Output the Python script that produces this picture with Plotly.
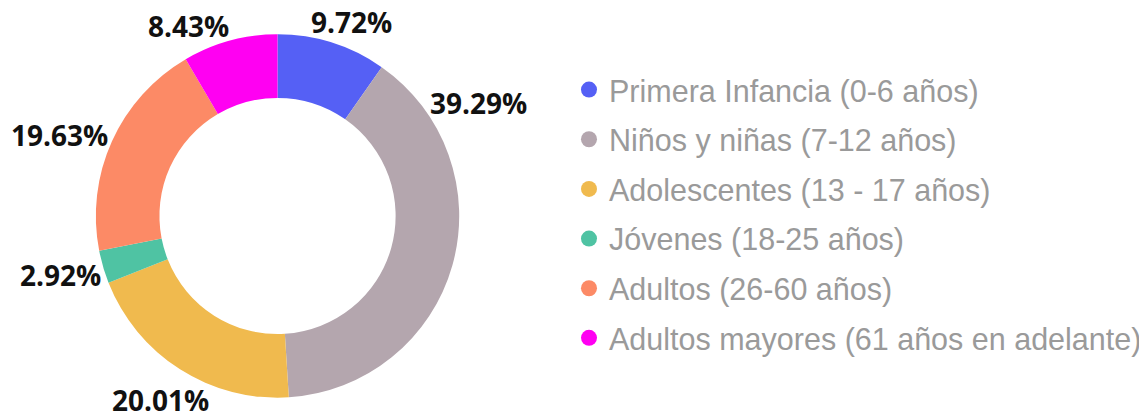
import math
import plotly.graph_objects as go

categories = [
    "Primera Infancia (0-6 años)",
    "Niños y niñas (7-12 años)",
    "Adolescentes (13 - 17 años)",
    "Jóvenes (18-25 años)",
    "Adultos (26-60 años)",
    "Adultos mayores (61 años en adelante)",
]
values = [9.72, 39.29, 20.01, 2.92, 19.63, 8.43]
colors = ["#5560F5", "#B4A6AE", "#F0BA4E", "#4FC3A3", "#FC8A66", "#FF00F2"]

# label placement tweaks (degrees added to slice mid-angle)
label_angle_offset = [3.5, -45, 0, 1, -4, -10]

# page body has an 8px margin, so the figure is sized to fit the window
W, H = 1139, 406
CX, CY, R = 270, 208, 182  # pie centre / outer radius in figure pixels
LABEL_SIZE = 28

fig = go.Figure()
fig.add_trace(go.Pie(
    labels=categories,
    values=values,
    hole=0.65,
    sort=False,
    direction="clockwise",
    rotation=0,
    marker=dict(colors=colors, line=dict(width=0)),
    textinfo="none",
    showlegend=False,
    domain=dict(x=[(CX - R) / W, (CX + R) / W], y=[1 - (CY + R) / H, 1 - (CY - R) / H]),
    hoverinfo="label+percent",
))

for i, (name, col) in enumerate(zip(categories, colors)):
    fig.add_trace(go.Scatter(
        x=[None], y=[None], mode="markers", name=name,
        marker=dict(symbol="circle", size=18, color=col),
        legendgroup=f"g{i}", showlegend=True,
    ))


def text_width(s):
    w = 0
    for ch in s:
        if ch.isdigit():
            w += 0.572
        elif ch == ".":
            w += 0.29
        elif ch == "%":
            w += 0.87
    return w * LABEL_SIZE


total = sum(values)
cum = 0
annotations = []
for v, off in zip(values, label_angle_offset):
    mid = (cum + v / 2) / total * 360 + off
    cum += v
    a = math.radians(mid)
    s, c = math.sin(a), math.cos(a)
    txt = f"{v:.2f}%"
    w = text_width(txt)
    h = 20
    dist = R + 2 + abs(s) * w / 2 + abs(c) * h / 2
    px = CX + dist * s
    py = CY - dist * c
    annotations.append(dict(
        x=px / W, y=1 - py / H, xref="paper", yref="paper",
        text=f"<b>{txt}</b>", showarrow=False,
        xanchor="center", yanchor="middle", borderpad=0,
        font=dict(family="Open Sans", size=LABEL_SIZE, color="#111111"),
    ))

fig.update_layout(
    width=W, height=H,
    margin=dict(l=0, r=0, t=0, b=0),
    paper_bgcolor="white", plot_bgcolor="white",
    xaxis=dict(visible=False), yaxis=dict(visible=False),
    annotations=annotations,
    legend=dict(
        x=0.4934, y=0.8638, xanchor="left", yanchor="top",
        font=dict(family="Liberation Sans", size=30.5, color="#9A9A9A"),
        tracegroupgap=7, bgcolor="rgba(0,0,0,0)",
    ),
)

fig.write_html("out.html")
